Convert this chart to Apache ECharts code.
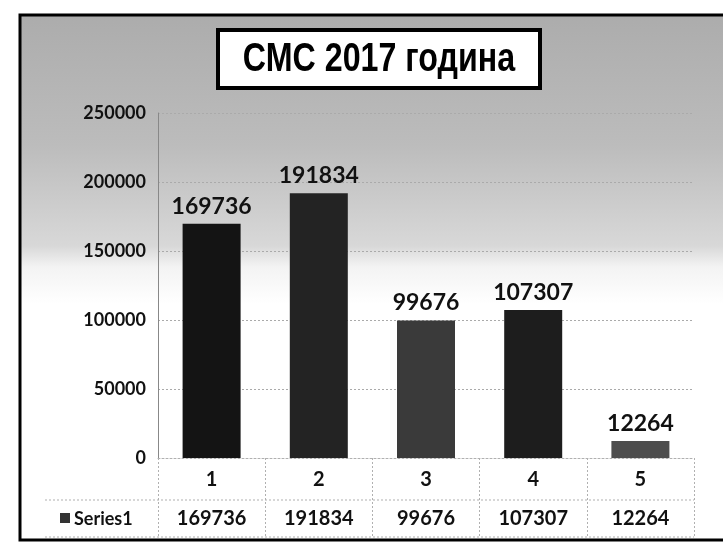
<!DOCTYPE html>
<html>
<head>
<meta charset="utf-8">
<script src="https://cdn.jsdelivr.net/npm/echarts@6/dist/echarts.min.js"></script>
<style>
html,body{margin:0;padding:0;background:#fff;}
#chart{width:723px;height:559px;}
</style>
</head>
<body>
<div id="chart"></div>
<script>
const titleText = 'СМС 2017 година';
const seriesName = 'Series1';
const categories = ['1', '2', '3', '4', '5'];
const values = [169736, 191834, 99676, 107307, 12264];
const yTicks = [0, 50000, 100000, 150000, 200000, 250000];
const barColors = ['#141414', '#232323', '#3a3a3a', '#1d1d1d', '#4d4d4d'];

const chart = echarts.init(document.getElementById('chart'));
const FONT = 'Lato, "Open Sans", sans-serif';

chart.setOption({
  animation: false,
  backgroundColor: '#ffffff',
  grid: { left: 158, right: 29, top: 113, bottom: 101 },
  graphic: [
    {
      type: 'rect', z: -10, silent: true,
      shape: { x: 20, y: 15, width: 720, height: 525 },
      style: {
        fill: new echarts.graphic.LinearGradient(0, 0, 0, 1, [
          { offset: 0, color: '#acacac' },
          { offset: 0.25, color: '#bcbcbc' },
          { offset: 0.44, color: '#d8d8d8' },
          { offset: 0.48, color: '#f3f3f3' },
          { offset: 0.55, color: '#ffffff' },
          { offset: 1, color: '#ffffff' }
        ]),
        stroke: '#000', lineWidth: 3
      }
    },
    {
      type: 'rect', z: 10,
      shape: { x: 218, y: 30, width: 322, height: 58 },
      style: { fill: '#fff', stroke: '#000', lineWidth: 4 }
    },
    {
      type: 'text', z: 11, x: 379, y: 60, scaleX: 0.92, scaleY: 1.15,
      style: { text: titleText, font: 'bold 35px "Liberation Sans", Arial, sans-serif',
               fill: '#000', align: 'center', verticalAlign: 'middle' }
    },
    { type: 'rect', shape: { x: 60, y: 513, width: 10, height: 10 }, style: { fill: '#333' } },
    { type: 'text', x: 74, y: 519,
      style: { text: seriesName, font: 'bold 18px ' + FONT, fill: '#111', verticalAlign: 'middle' } },
    { type: 'line', shape: { x1: 45, y1: 500, x2: 694, y2: 500 },
      style: { stroke: '#b0b0b0', lineWidth: 1, lineDash: [2, 2] } },
    { type: 'line', shape: { x1: 45, y1: 537, x2: 694, y2: 537 },
      style: { stroke: '#b0b0b0', lineWidth: 1, lineDash: [2, 2] } }
  ],
  xAxis: {
    type: 'category',
    data: categories,
    axisLine: { show: true, lineStyle: { color: '#b0b0b0', type: [2, 2] } },
    axisTick: { show: true, interval: 0, length: 79, lineStyle: { color: '#b0b0b0', type: [2, 2] } },
    axisLabel: {
      interval: 0, margin: 2,
      formatter: (v, i) => '{h|' + v + '}\n{v|' + values[i] + '}',
      rich: {
        h: { fontSize: 20, fontWeight: 'bold', fontFamily: FONT, color: '#111', lineHeight: 40 },
        v: { fontSize: 20, fontWeight: 'bold', fontFamily: FONT, color: '#111', lineHeight: 38 }
      }
    }
  },
  yAxis: {
    type: 'value',
    min: yTicks[0], max: yTicks[yTicks.length - 1], interval: yTicks[1] - yTicks[0],
    axisLine: { show: true, lineStyle: { color: '#888', width: 1 } },
    axisTick: { show: false },
    axisLabel: { margin: 12, fontSize: 18, fontWeight: 'bold', fontFamily: FONT, color: '#111',
                 formatter: v => String(v) },
    splitLine: { lineStyle: { color: '#aaa', type: [2, 2] } }
  },
  series: [{
    name: seriesName,
    type: 'bar',
    data: values,
    barWidth: 58,
    itemStyle: { color: p => barColors[p.dataIndex] },
    label: {
      show: true, position: 'top', distance: 6,
      fontSize: 23, fontWeight: 'bold', fontFamily: FONT, color: '#111'
    }
  }]
});
</script>
</body>
</html>
